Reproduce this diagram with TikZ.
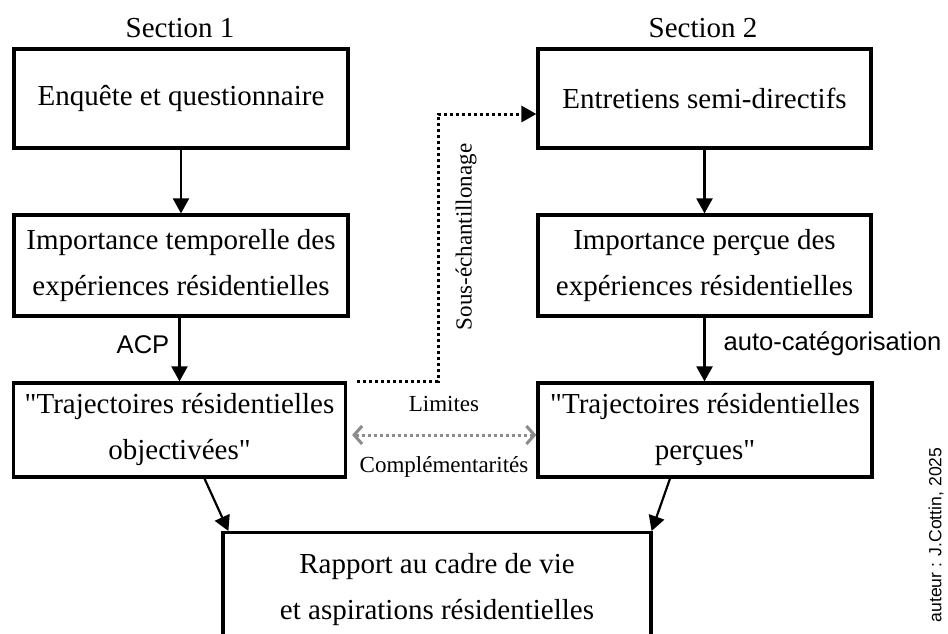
\documentclass[tikz,border=0pt]{standalone}
\usepackage{fontspec}
\setmainfont{Liberation Serif}[Ligatures=TeXOff]
\newfontfamily\arialf{Liberation Sans}
\usetikzlibrary{arrows.meta,calc}
\tikzset{
  box/.style={draw, line width=3.2pt, align=center, inner sep=0pt,
    font=\fontsize{29}{46}\selectfont},
  flow/.style={line width=2.2pt, -{Triangle[length=15pt,width=16pt]}},
  sublink/.style={line width=3pt, dash pattern=on 3pt off 3pt, -{Triangle[length=15pt,width=16pt]}},
  compare/.style={line width=3pt, draw=black!45, dash pattern=on 3pt off 3pt,
    {Straight Barb[length=8pt,width=18pt,line width=3pt]}-{Straight Barb[length=8pt,width=18pt,line width=3pt]}},
  ttl/.style={font=\fontsize{29}{34}\selectfont},
  small/.style={font=\fontsize{23}{28}\selectfont},
  sanslbl/.style={font=\arialf\fontsize{25.6}{30}\selectfont},
}
\begin{document}
\begin{tikzpicture}[x=1pt,y=-1pt]
\clip (0,0) rectangle (948,634);
\fill[white] (0,0) rectangle (948,634);

\node[ttl] (s1) at (180,28) {Section 1};
\node[ttl] (s2) at (703,28) {Section 2};

\node[box, minimum width=334pt, minimum height=99pt] (e1) at (181,98.5) {Enquête et questionnaire};
\node[box, minimum width=333pt, minimum height=99pt] (e2) at (704.5,98.5) {Entretiens semi-directifs};

\node[box, minimum width=334pt, minimum height=101pt] (i1) at (181,265.5) {Importance temporelle des\\expériences résidentielles};
\node[box, minimum width=333pt, minimum height=101pt] (i2) at (704.5,265.5) {Importance perçue des\\expériences résidentielles};

\node[box, minimum width=332pt, minimum height=94pt] (t1) at (179.5,430) {"Trajectoires résidentielles\\objectivées"};
\node[box, minimum width=334pt, minimum height=94pt] (t2) at (705,430) {"Trajectoires résidentielles\\perçues"};

\node[box, minimum width=428pt, minimum height=130pt, anchor=north] (r) at (437,531) {};
\node[font=\fontsize{29}{46}\selectfont, align=center] (rt) at (437,590) {Rapport au cadre de vie\\et aspirations résidentielles};

\draw[flow] (e1) -- (i1);
\draw[flow] (e2) -- (i2);
\draw[flow] (i1.south -| t1.north) -- (t1.north);
\draw[flow] (i2) -- (i2.south |- t2.north);
\draw[flow] ([xshift=25pt]t1.south) -- ([xshift=7pt]r.north west);
\draw[flow] ([xshift=-35pt]t2.south) -- ([xshift=-1pt]r.north east);

\node[sanslbl] (acp) at (143,345) {ACP};
\node[sanslbl, anchor=west] (auto) at (720,344) {auto-catégorisation};

\coordinate (sx) at (438,114);
\draw[sublink] ([xshift=10pt]t1.north east) -| (sx) -- (sx -| e2.west);
\node[small, rotate=90] (sub) at (466,237) {Sous-échantillonage};

\draw[compare, shorten <=5pt] (t1.east |- 0,435) -- (t2.west |- 0,435);
\node[small] (lim) at (444,404) {Limites};
\node[small] (comp) at (444,467) {Complémentarités};

\node[font=\arialf\fontsize{17.6}{20}\selectfont, rotate=90] (aut) at (936,535) {auteur : J.Cottin, 2025};
\end{tikzpicture}
\end{document}
